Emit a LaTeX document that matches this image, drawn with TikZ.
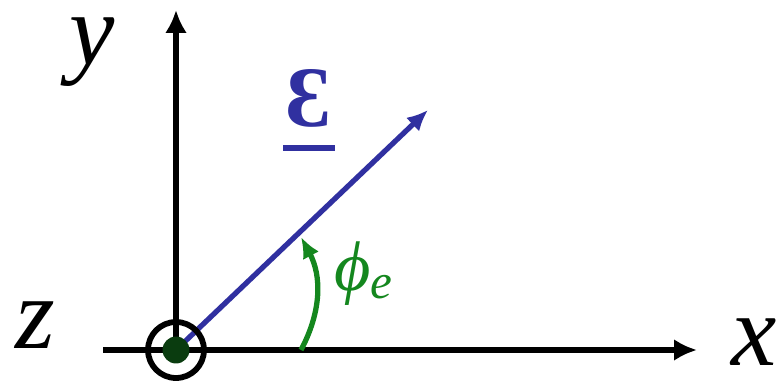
\documentclass[tikz,border=0pt]{standalone}
\usepackage{fontspec}
\setmainfont{Liberation Serif}
\usetikzlibrary{arrows.meta,positioning}
\definecolor{vecblue}{RGB}{48,48,160}
\definecolor{anglegreen}{RGB}{20,135,30}
\definecolor{dotgreen}{RGB}{10,60,15}

\begin{document}
\begin{tikzpicture}[x=0.02cm,y=0.02cm,font=\fontsize{58}{60}\selectfont\itshape,
  axis/.style={line width=3.4pt,-{Latex[length=0.46cm,width=0.44cm]}},
  vec/.style={vecblue,line width=3pt,-{Latex[length=0.42cm,width=0.38cm]}},
  lbl/.style={anchor=base,inner sep=0pt,text height=1.1ex,text depth=0pt}]
\useasboundingbox (0,0) rectangle (779,383);
\coordinate (O) at (176,33);
\coordinate (xs) at (103,33);
\coordinate (xe) at (697,33);
\coordinate (ye) at (176,373);
\coordinate (ve) at (428,273);
\coordinate (as) at (301,33);
\coordinate (ae) at (301,146);
\draw[axis] (xs)--(xe);
\draw[axis] (O)--(ye);
\draw[vec] (O)--(ve);
\draw[anglegreen,line width=3pt,-{Latex[length=0.42cm,width=0.36cm]}] (as) to[bend right=28] (ae);
\draw[line width=3.3pt] (O) circle[radius=0.56cm];
\fill[dotgreen] (O) circle[radius=0.27cm];
\node[lbl] (ylab) at (92,318) {y};
\node[lbl] (xlab) at (754,18) {x};
\node[lbl] (zlab) at (35,35) {z};
\node[lbl,vecblue,font=\fontsize{49}{50}\selectfont\bfseries] (elab) at (308,256) {Ɛ};
\draw[vecblue,line width=3pt] (283,235)--(335,235);
\node[lbl,anglegreen,font=\fontsize{40}{42}\selectfont\itshape] (plab) at (364,93) {ϕ\textsubscript{e}};
\end{tikzpicture}
\end{document}
